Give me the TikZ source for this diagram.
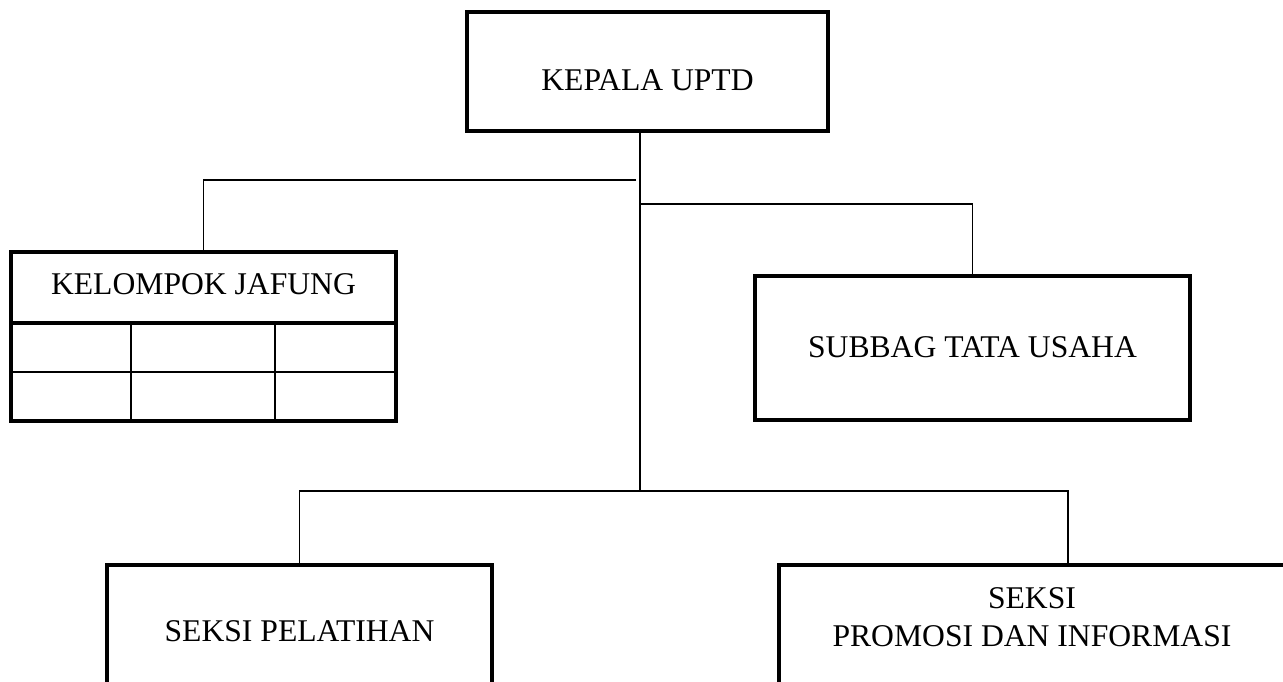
\documentclass[tikz,border=0pt]{standalone}
\usepackage{fontspec}
\setmainfont{Liberation Serif}
\usepackage{tikz}
\usetikzlibrary{positioning, calc}
\tikzset{
    orgbox/.style 2 args={draw, rectangle, line width=2.3pt, inner sep=0pt, outer sep=0pt,
        minimum width=#1*0.02cm, minimum height=#2*0.02cm},
    orgtext/.style={align=center, inner sep=0pt},
    conn/.style={line width=1.1pt},
    gridline/.style={line width=1.1pt}
}

\begin{document}
\begin{tikzpicture}[
    x=0.02cm, y=-0.02cm,
    every node/.style={font=\fontsize{18}{21.5}\selectfont}
]

% Canvas
\useasboundingbox (0,0) rectangle (1283,681);
\clip (0,0) rectangle (1283,681);

% Head
\node[orgbox={361}{119}] (kepala) at (647.5,71.5) {};
\node[orgtext] (kepalatxt) at (647.5,80) {KEPALA UPTD};

% Functional group with its table
\node[orgbox={385}{71}] (jafung) at (203.5,287.5) {};
\node[orgtext] (jafungtxt) at (203.5,284) {KELOMPOK JAFUNG};
\draw[line width=2.3pt] (jafung.south west) rectangle ++(385,98);
\draw[gridline] ($(jafung.south west)+(0,49)$) -- ++(385,0);
\foreach \dx in {120,264} {
    \draw[gridline] ($(jafung.south west)+(\dx,0)$) -- ++(0,98);
}

% Administration
\node[orgbox={435}{144}] (subbag) at (972.5,348) {};
\node[orgtext] (subbagtxt) at (972.5,347) {SUBBAG TATA USAHA};

% Sections
\node[orgbox={385}{170}] (pelatihan) at (299.5,650) {};
\node[orgtext] (pelatihantxt) at (299.5,631) {SEKSI PELATIHAN};
\node[orgbox={578}{170}] (promosi) at (1068,650) {};
\node[orgtext] (promositxt) at (1032,617) {SEKSI\\PROMOSI DAN INFORMASI};

% Connectors
\coordinate (trunk) at (640,491);
\coordinate (jfend) at (636,180);
\coordinate (sbstart) at (639,204);
\draw[conn] (trunk |- kepala.south) -- (trunk);
\draw[conn] (jfend) -- (jfend -| jafung.north) -- (jafung.north);
\draw[conn] (sbstart) -- (sbstart -| subbag.north) -- (subbag.north);
\draw[conn] (pelatihan.north) -- (pelatihan.north |- trunk)
    -- (promosi.north |- trunk) -- (promosi.north);

\end{tikzpicture}
\end{document}
